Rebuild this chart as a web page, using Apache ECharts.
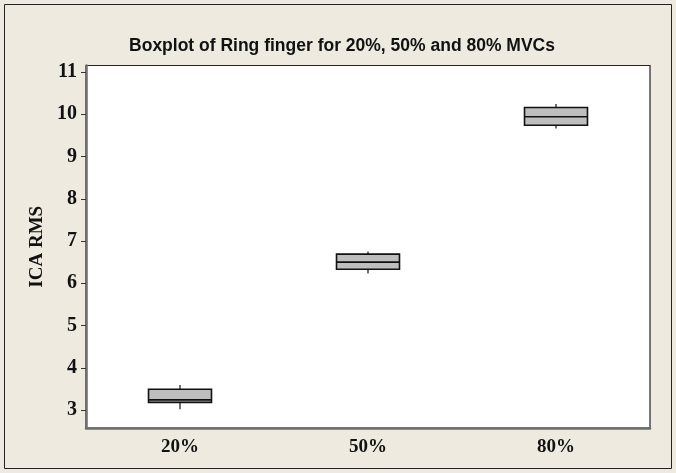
<!DOCTYPE html>
<html>
<head>
<meta charset="utf-8">
<script src="https://cdn.jsdelivr.net/npm/echarts@6/dist/echarts.min.js"></script>
<style>html,body{margin:0;padding:0;background:#EEEAE0;}#c{width:676px;height:473px;}</style>
</head>
<body>
<div id="c"></div>
<script>
const categories = ['20%', '50%', '80%'];
const whiskerLow = [3.02, 6.23, 9.66];
const q1 = [3.18, 6.33, 9.74];
const median = [3.24, 6.50, 9.94];
const q3 = [3.49, 6.69, 10.16];
const whiskerHigh = [3.59, 6.75, 10.24];
const yTicks = [3, 4, 5, 6, 7, 8, 9, 10, 11];

const boxData = categories.map((c, i) => [i, whiskerLow[i], q1[i], median[i], q3[i], whiskerHigh[i]]);

const chart = echarts.init(document.getElementById('c'), null, {renderer: 'canvas'});
chart.setOption({
  backgroundColor: '#EEEAE0',
  animation: false,
  title: {
    text: 'Boxplot of Ring finger for 20%, 50% and 80% MVCs',
    left: 337, top: 32, textAlign: 'center',
    textStyle: {fontFamily: 'Liberation Sans', fontWeight: 'bold', fontSize: 17.5, color: '#111'}
  },
  graphic: [{
    type: 'rect', shape: {x: 4.5, y: 4.5, width: 667, height: 464},
    style: {fill: 'none', stroke: '#222', lineWidth: 1}, silent: true
  }],
  grid: {left: 86, top: 65.5, width: 564, height: 362.5, show: true, backgroundColor: '#fff', borderColor: '#222', borderWidth: 1.2},
  xAxis: {
    type: 'category', data: categories, boundaryGap: true,
    axisLine: {lineStyle: {color: '#6e6e6e', width: 2.5}},
    axisTick: {alignWithLabel: true, length: 5, lineStyle: {color: '#333', width: 1}},
    axisLabel: {fontFamily: 'Liberation Serif', fontWeight: 'bold', fontSize: 19, color: '#111', margin: 10},
    splitLine: {show: false}
  },
  yAxis: {
    type: 'value', min: 2.574, max: 11.154,
    name: 'ICA RMS', nameLocation: 'middle', nameGap: 36, nameRotate: 90,
    nameTextStyle: {fontFamily: 'Liberation Serif', fontWeight: 'bold', fontSize: 19, color: '#111'},
    axisLine: {show: true, lineStyle: {color: '#6e6e6e', width: 2.5}},
    axisTick: {show: true, length: 5, customValues: yTicks, lineStyle: {color: '#333', width: 1}},
    axisLabel: {customValues: yTicks, fontFamily: 'Liberation Serif', fontWeight: 'bold', fontSize: 20, color: '#111', margin: 9},
    splitLine: {show: false}
  },
  series: [{
    type: 'custom',
    data: boxData,
    encode: {x: 0, y: [1, 2, 3, 4, 5]},
    renderItem: function (params, api) {
      const x = api.value(0);
      const bw = api.size([1, 0])[0] * 0.335;
      const pLow = api.coord([x, api.value(1)]);
      const pQ1 = api.coord([x, api.value(2)]);
      const pMed = api.coord([x, api.value(3)]);
      const pQ3 = api.coord([x, api.value(4)]);
      const pHigh = api.coord([x, api.value(5)]);
      const cx = pMed[0];
      const line = {stroke: '#111', lineWidth: 1.2};
      return {
        type: 'group',
        children: [
          {type: 'line', shape: {x1: cx, y1: pLow[1], x2: cx, y2: pQ1[1]}, style: line},
          {type: 'line', shape: {x1: cx, y1: pQ3[1], x2: cx, y2: pHigh[1]}, style: line},
          {type: 'rect', shape: {x: cx - bw / 2, y: pQ3[1], width: bw, height: pQ1[1] - pQ3[1]},
            style: {fill: '#BEBEBE', stroke: '#111', lineWidth: 1.6}},
          {type: 'line', shape: {x1: cx - bw / 2, y1: pMed[1], x2: cx + bw / 2, y2: pMed[1]}, style: {stroke: '#111', lineWidth: 1.6}}
        ]
      };
    }
  }]
});
</script>
</body>
</html>
